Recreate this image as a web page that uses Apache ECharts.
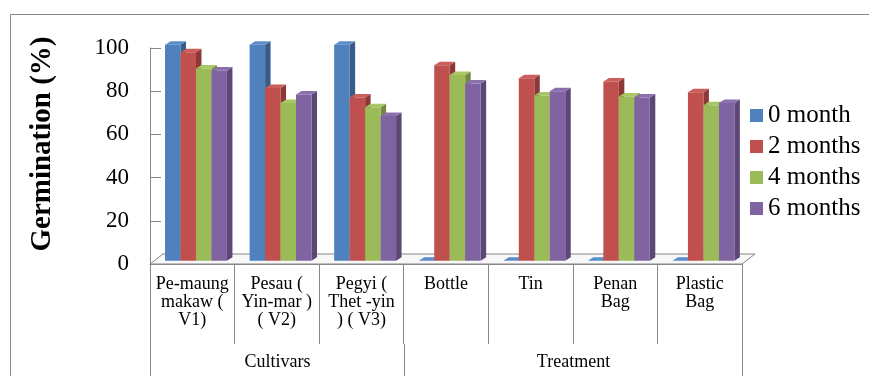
<!DOCTYPE html>
<html>
<head>
<meta charset="utf-8">
<script src="https://cdn.jsdelivr.net/npm/echarts@6/dist/echarts.min.js"></script>
<style>
  html, body { margin: 0; padding: 0; background: #fff; }
  #chart { width: 869px; height: 376px; }
</style>
</head>
<body>
<div id="chart"></div>
<script>
// data
const categories = [
  "Pe-maung\nmakaw (\nV1)",
  "Pesau (\nYin-mar )\n( V2)",
  "Pegyi (\nThet -yin\n) ( V3)",
  "Bottle",
  "Tin",
  "Penan\nBag",
  "Plastic\nBag"
];
const groupNames = ["Cultivars", "Treatment"];
const groupSizes = [3, 4];
const seriesNames = ["0 month", "2 months", "4 months", "6 months"];
const month0 = [100, 100, 100, 0, 0, 0, 0];
const month2 = [96.5, 80, 75.5, 90.5, 84.5, 83, 78];
const month4 = [89, 73, 71, 86, 76.5, 76, 72];
const month6 = [88, 77, 67, 82, 78.5, 75.5, 73];
const yMin = 0, yMax = 100, yStep = 20;

// Excel-like 3D column look
const faceColors = ["#4F81BD", "#C0504D", "#9BBB59", "#8064A2"];
const sideColors = ["#385D8A", "#8C3836", "#71893F", "#5C4776"];
const topColors = ["#5B8DC9", "#CB5D5A", "#A7C766", "#8C70AE"];
const FONT = "Liberation Serif";
const BAR_FRAC = 0.183;   // face width as share of a category
const SHIFT_X = 3.7, SHIFT_Y = -3.3; // bars stand a little back on the floor
const DX = 5.5, DY = 3.5;           // depth of a column
const FLOOR_DX = 13, FLOOR_DY = 10;  // depth of the floor
const TICK_LEN = 80;
const LINE = "#868686";

const allValues = [month0, month2, month4, month6];

function makeBar(k) {
  return function (params, api) {
    const c = api.value(0);
    const base = api.coord([c, 0]);
    const top = api.coord([c, api.value(1)]);
    const bw = api.size([1, 0])[0] * BAR_FRAC;
    const x0 = base[0] - 2 * bw + k * bw + SHIFT_X;
    const x1 = x0 + bw;
    const yb = base[1] + SHIFT_Y;
    const yt = top[1] + SHIFT_Y;
    return {
      type: "group",
      children: [
        { type: "polygon", shape: { points: [[x1, yt], [x1 + DX, yt - DY], [x1 + DX, yb - DY], [x1, yb]] }, style: { fill: sideColors[k] } },
        { type: "polygon", shape: { points: [[x0, yt], [x1, yt], [x1 + DX, yt - DY], [x0 + DX, yt - DY]] }, style: { fill: topColors[k] } },
        { type: "rect", shape: { x: x0, y: yt, width: bw, height: yb - yt }, style: { fill: faceColors[k] } }
      ]
    };
  };
}

function renderFloor(params, api) {
  const first = api.coord([0, 0]);
  const last = api.coord([categories.length - 1, 0]);
  const half = api.size([1, 0])[0] / 2;
  const xl = first[0] - half, xr = last[0] + half, y = first[1];
  return {
    type: "polygon",
    shape: { points: [[xl, y], [xr, y], [xr + FLOOR_DX, y - FLOOR_DY], [xl + FLOOR_DX, y - FLOOR_DY]] },
    style: { fill: "#f8f8f8", stroke: LINE, lineWidth: 1 }
  };
}

// second row of the category axis (Cultivars / Treatment)
const groupData = [];
let start = 0;
groupSizes.forEach(n => { groupData.push([start, start + n - 1]); start += n; });

function renderGroup(params, api) {
  const a = api.coord([api.value(0), 0]);
  const b = api.coord([api.value(1), 0]);
  const half = api.size([1, 0])[0] / 2;
  const xl = Math.round(a[0] - half) + 0.5;
  const xr = Math.round(b[0] + half) + 0.5;
  const y = a[1];
  return {
    type: "group",
    children: [
      { type: "line", shape: { x1: xl, y1: y + TICK_LEN, x2: xl, y2: y + 140 }, style: { stroke: LINE, lineWidth: 1 } },
      { type: "line", shape: { x1: xr, y1: y + TICK_LEN, x2: xr, y2: y + 140 }, style: { stroke: LINE, lineWidth: 1 } },
      { type: "text", style: { text: groupNames[params.dataIndex], x: (xl + xr) / 2, y: y + 98, align: "center", verticalAlign: "middle", fontSize: 18, fontFamily: FONT, fill: "#000" } }
    ]
  };
}

const chart = echarts.init(document.getElementById("chart"));

const barSeries = seriesNames.map((name, k) => ({
  name: name,
  type: "custom",
  z: 3,
  clip: false,
  itemStyle: { color: faceColors[k] },
  encode: { x: 0, y: 1 },
  data: allValues[k].map((v, i) => [i, v]),
  renderItem: makeBar(k)
}));

chart.setOption({
  animation: false,
  graphic: [{
    type: "rect",
    silent: true,
    shape: { x: 10.5, y: 14.5, width: 900, height: 400 },
    style: { fill: "transparent", stroke: LINE, lineWidth: 1 }
  }],
  grid: { left: 150, right: 127, top: 48, bottom: 112, containLabel: false },
  legend: {
    orient: "vertical",
    left: 750,
    top: 103,
    padding: 0,
    itemWidth: 13,
    itemHeight: 13,
    itemGap: 6,
    selectedMode: false,
    data: seriesNames.map(n => ({ name: n, icon: "rect" })),
    textStyle: { fontSize: 25, fontFamily: FONT, color: "#000", lineHeight: 25 }
  },
  xAxis: {
    type: "category",
    data: categories,
    axisLine: { show: true, lineStyle: { color: LINE } },
    axisTick: { show: true, interval: 0, alignWithLabel: false, length: TICK_LEN, lineStyle: { color: LINE } },
    axisLabel: { interval: 0, margin: 11, fontSize: 18, lineHeight: 18, color: "#000", fontFamily: FONT },
    splitLine: { show: false }
  },
  yAxis: {
    type: "value",
    min: yMin,
    max: yMax,
    interval: yStep,
    name: "Germination (%)",
    nameLocation: "middle",
    nameGap: 93,
    nameRotate: 90,
    nameTextStyle: { fontFamily: FONT, fontSize: 29, fontWeight: "bold", color: "#000", padding: [0, 0, 0, 24] },
    axisLine: { show: true, lineStyle: { color: LINE } },
    axisTick: { show: true, inside: true, length: 11, lineStyle: { color: LINE } },
    axisLabel: { margin: 21, fontSize: 23, color: "#000", fontFamily: FONT },
    splitLine: { show: false }
  },
  series: [
    { name: "floor", type: "custom", z: 1, silent: true, clip: false, encode: { x: 0, y: 1 }, data: [[0, 0]], renderItem: renderFloor },
    ...barSeries,
    { name: "groups", type: "custom", z: 2, silent: true, clip: false, encode: { x: 0, y: 1 }, data: groupData, renderItem: renderGroup }
  ]
});
</script>
</body>
</html>
